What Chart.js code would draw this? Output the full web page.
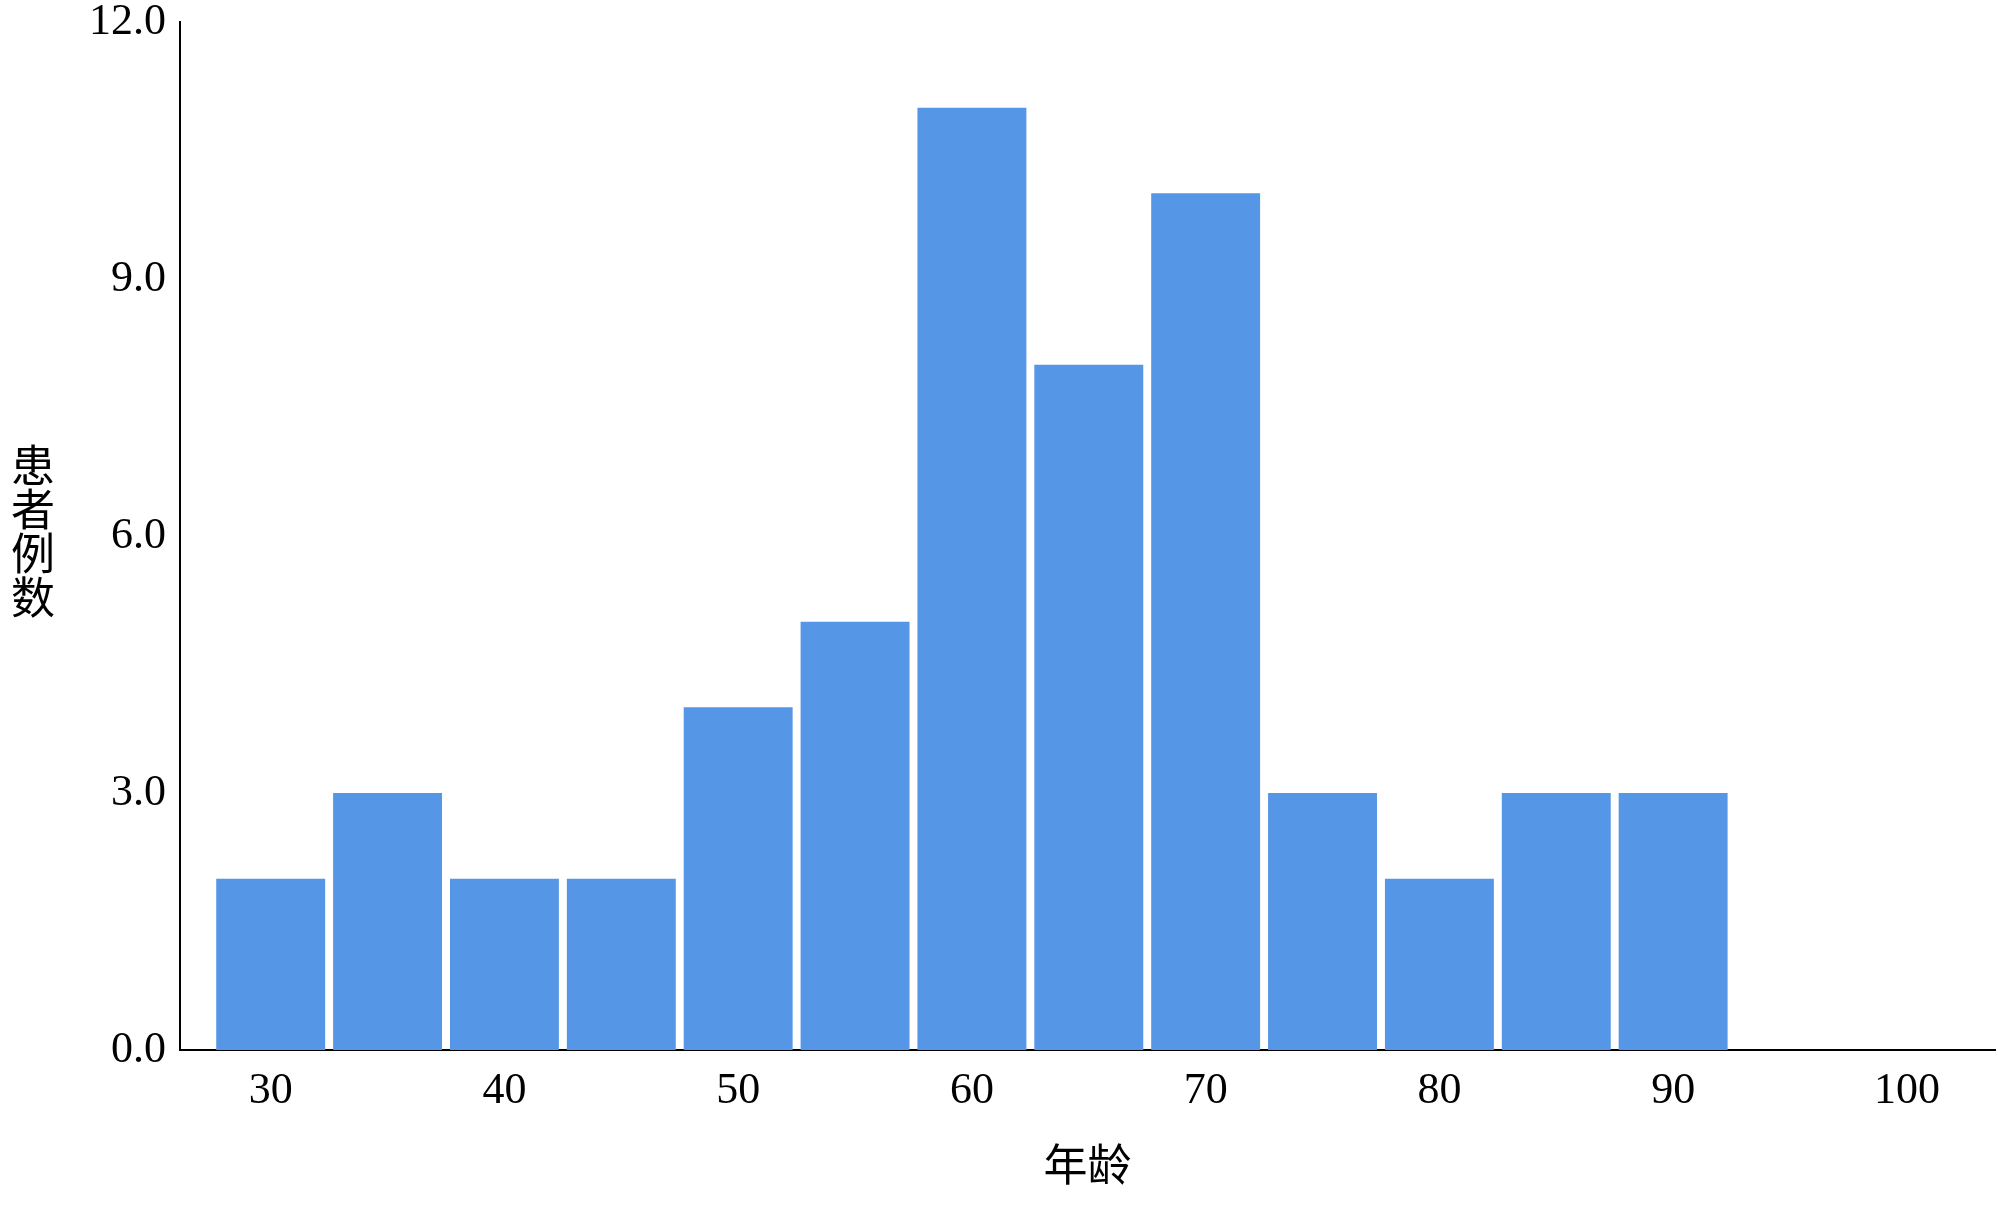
<!DOCTYPE html>
<html>
<head>
<meta charset="utf-8">
<script src="https://cdn.jsdelivr.net/npm/chart.js@4"></script>
<style>
  html, body { margin: 0; padding: 0; background: #fff; }
  #wrap { width: 2000px; height: 1206px; }
</style>
</head>
<body>
<div id="wrap"><canvas id="hist"></canvas></div>
<script>
// age histogram: bin centres (width 5) and patient counts
const binCenters = [30, 35, 40, 45, 50, 55, 60, 65, 70, 75, 80, 85, 90];
const counts = [2, 3, 2, 2, 4, 5, 11, 8, 10, 3, 2, 3, 3];
const xTicks = [30, 40, 50, 60, 70, 80, 90, 100];
const yTicks = [0, 3, 6, 9, 12];
const xTitle = '年龄';
const yTitle = ['患', '者', '例', '数'];

const serif = '"Liberation Serif", "Times New Roman", serif';
const cjk = '"Liberation Serif", "Noto Sans CJK SC", serif';

// vertical stacked y title, drawn char by char
const stackedTitle = {
  id: 'stackedTitle',
  afterDraw(chart) {
    const { ctx, chartArea } = chart;
    const cy = (chartArea.top + chartArea.bottom) / 2;
    ctx.save();
    ctx.font = '44px ' + cjk;
    ctx.fillStyle = '#000';
    ctx.textAlign = 'center';
    ctx.textBaseline = 'middle';
    yTitle.forEach((ch, i) => {
      ctx.fillText(ch, 33, cy + (i - (yTitle.length - 1) / 2) * 44);
    });
    ctx.restore();
  }
};

new Chart(document.getElementById('hist'), {
  type: 'bar',
  data: {
    datasets: [{
      data: binCenters.map((x, i) => ({ x, y: counts[i] })),
      backgroundColor: '#5596e6',
      borderWidth: 0,
      barPercentage: 0.932,
      categoryPercentage: 1
    }]
  },
  options: {
    responsive: true,
    maintainAspectRatio: false,
    animation: false,
    layout: { padding: { top: 22, right: 5, left: 0, bottom: 0 } },
    plugins: { legend: { display: false }, tooltip: { enabled: false } },
    scales: {
      x: {
        type: 'linear',
        offset: false,
        min: 26.12,
        max: 103.77,
        afterBuildTicks: (s) => { s.ticks = xTicks.map(v => ({ value: v })); },
        afterFit: (s) => { s.height = 156; s.paddingLeft = 0; s.paddingRight = 0; },
        grid: { display: false, drawTicks: false, offset: false },
        border: { display: true, color: '#000', width: 2 },
        ticks: {
          padding: 15,
          color: '#000',
          font: { family: serif, size: 44, lineHeight: 1.2 }
        },
        title: {
          display: true,
          text: xTitle,
          color: '#000',
          font: { family: cjk, size: 44, lineHeight: 1.2 },
          padding: { top: 0, bottom: 10 }
        }
      },
      y: {
        min: 0,
        max: 12,
        afterBuildTicks: (s) => { s.ticks = yTicks.map(v => ({ value: v })); },
        afterFit: (s) => { s.width = 180; s.paddingTop = 0; s.paddingBottom = 0; },
        grid: { display: false, drawTicks: false },
        border: { display: true, color: '#000', width: 2 },
        ticks: {
          padding: 14,
          color: '#000',
          font: { family: serif, size: 44, lineHeight: 1.0 },
          callback: (v) => v.toFixed(1)
        }
      }
    }
  },
  plugins: [stackedTitle]
});
</script>
</body>
</html>
